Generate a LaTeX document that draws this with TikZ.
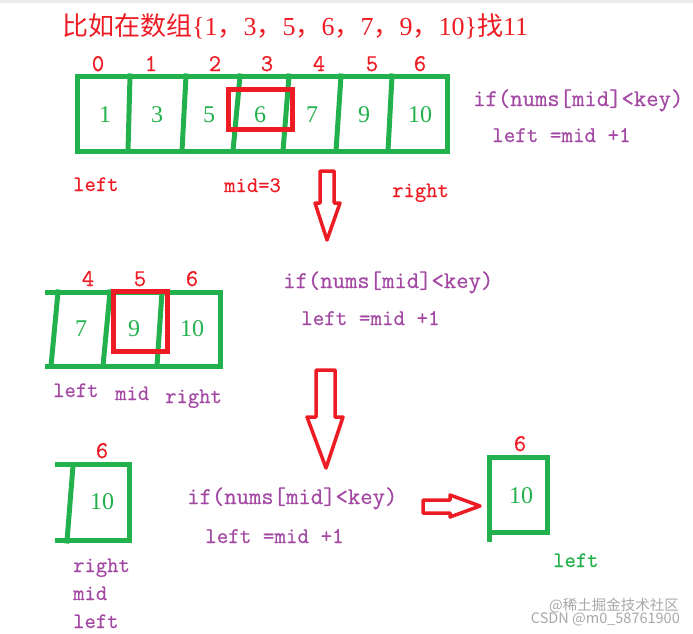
\documentclass[tikz,border=0pt]{standalone}
\usepackage{fontspec}
\setmonofont{Latin Modern Mono}[FakeBold=0.7]
\newfontfamily\cjkfont{Noto Sans CJK SC}
\newfontfamily\numserif{Liberation Serif}
\definecolor{pred}{HTML}{ED1C24}
\definecolor{pgreen}{HTML}{22B14C}
\definecolor{ppurple}{HTML}{A349A4}
\definecolor{wmgray}{HTML}{A8A8A8}
\newcommand\myTitleFont{\cjkfont\fontsize{26}{30}\selectfont}
\newcommand\tn[1]{{\numserif #1}}
\newcommand\myCodeFont{\ttfamily\fontsize{24}{28}\selectfont}
\newcommand\myAssignFont{\ttfamily\fontsize{22.4}{26}\selectfont}
\newcommand\myLabelFont{\ttfamily\fontsize{22}{26}\selectfont}
\newcommand\myIdxFont{\ttfamily\fontsize{24}{28}\selectfont}
\newcommand\myValFont{\numserif\fontsize{24}{28}\selectfont}
\newcommand\myWmFont{\cjkfont\fontsize{14.5}{17}\selectfont}
\begin{document}
\begin{tikzpicture}[x=1pt,y=-1pt,
  gline/.style={draw=pgreen,line width=5pt,line cap=rect},
  rbox/.style={draw=pred,line width=5pt},
  blockarrow/.style={draw=pred,line width=3.5pt,line join=round},
  txt/.style={inner sep=0pt,anchor=base west},
  idx/.style={inner sep=0pt,anchor=base,text=pred,font=\myIdxFont},
  val/.style={inner sep=0pt,anchor=base,text=pgreen,font=\myValFont},
  code/.style={txt,text=ppurple,font=\myCodeFont},
  assign/.style={txt,text=ppurple,font=\myAssignFont},
  lbl/.style={txt,font=\myLabelFont},
  wm/.style={inner sep=0pt,anchor=base east,text=wmgray,font=\myWmFont}]
\useasboundingbox (0,0) rectangle (693,634);
\fill[black!8] (0,0) rectangle (693,3);

% title
\node[txt,text=pred,font=\myTitleFont] (title) at (62,36) {比如在数组\tn{\{1}，\tn{3}，\tn{5}，\tn{6}，\tn{7}，\tn{9}，\tn{10\}}找\tn{11}};

% ---- array 1 ----
\draw[gline] (77,76) rectangle (447,151);
\draw[gline] (130,76) -- (128,151);
\draw[gline] (186,76) -- (182,151);
\draw[gline] (240,76) -- (233,151);
\draw[gline] (289,76) -- (283,151);
\draw[gline] (341,76) -- (336,151);
\draw[gline] (392,76) -- (388,151);
\draw[rbox] (228,89) rectangle (292,129);
\foreach \i/\x in {0/98,1/151,2/215,3/267,4/319,5/372,6/420}
  \node[idx] (i1-\i) at (\x,71) {\i};
\foreach \i/\x/\v in {0/105/1,1/157/3,2/209/5,3/260/6,4/312/7,5/364/9,6/420/10}
  \node[val] (v1-\i) at (\x,122) {\v};
\node[lbl,text=pred] (left1) at (73,191) {left};
\node[lbl,text=pred] (mid1) at (224,192) {mid=3};
\node[lbl,text=pred] (right1) at (392,197) {right};
\node[code] (if1) at (473,106) {if(nums[mid]<key)};
\node[assign] (as1) at (492,142) {left =mid +1};

% arrow 1
\coordinate (a1) at (327,240);
\draw[blockarrow] (320,171) -- (334,171) -- (334,203) -- (340,203) -- (a1) -- (315,203) -- (320,203) -- cycle;

% ---- array 2 ----
\draw[gline] (47,292) -- (220,292) -- (220,366) -- (47,366);
\draw[gline] (58,292) -- (51,366);
\draw[gline] (110,292) -- (103,366);
\draw[gline] (162,292) -- (157,366);
\draw[rbox] (113,291) rectangle (167,351);
\foreach \i/\x in {4/88,5/140,6/192}
  \node[idx] (i2-\i) at (\x,286) {\i};
\foreach \i/\x/\v in {4/81/7,5/134/9,6/192/10}
  \node[val] (v2-\i) at (\x,336) {\v};
\node[lbl,text=ppurple] (left2) at (53,397) {left};
\node[lbl,text=ppurple] (mid2) at (115,400) {mid};
\node[lbl,text=ppurple] (right2) at (165,403) {right};
\node[code] (if2) at (283,288) {if(nums[mid]<key)};
\node[assign] (as2) at (301,325) {left =mid +1};

% arrow 2
\coordinate (a2) at (326,468);
\draw[blockarrow] (316,370) -- (335,370) -- (335,417) -- (343,417) -- (a2) -- (307,417) -- (316,417) -- cycle;

% ---- array 3 ----
\draw[gline] (57,464) -- (129,464) -- (129,540) -- (57,540);
\draw[gline] (73,466) -- (67,541);
\node[idx] (i3-6) at (102,458) {6};
\node[val] (v3-6) at (102,509) {10};
\node[lbl,text=ppurple] (right3) at (73,572) {right};
\node[lbl,text=ppurple] (mid3) at (73,600) {mid};
\node[lbl,text=ppurple] (left3) at (73,628) {left};
\node[code] (if3) at (187,504) {if(nums[mid]<key)};
\node[assign] (as3) at (205,543) {left =mid +1};

% arrow 3
\coordinate (a3) at (480,506);
\draw[blockarrow] (423,500) -- (450,500) -- (450,495) -- (a3) -- (450,517) -- (450,513) -- (423,513) -- cycle;

% ---- box 4 ----
\draw[gline] (489,539) -- (489,457) -- (547,457) -- (547,532) -- (489,532);
\node[idx] (i4-6) at (520,451) {6};
\node[val] (v4-6) at (521,503) {10};
\node[lbl,text=pgreen] (left4) at (553,567) {left};

% watermark
\node[wm] (wm1) at (679,610) {@稀土掘金技术社区};
\node[wm] (wm2) at (680,623) {CSDN @m0\_58761900};
\end{tikzpicture}
\end{document}
